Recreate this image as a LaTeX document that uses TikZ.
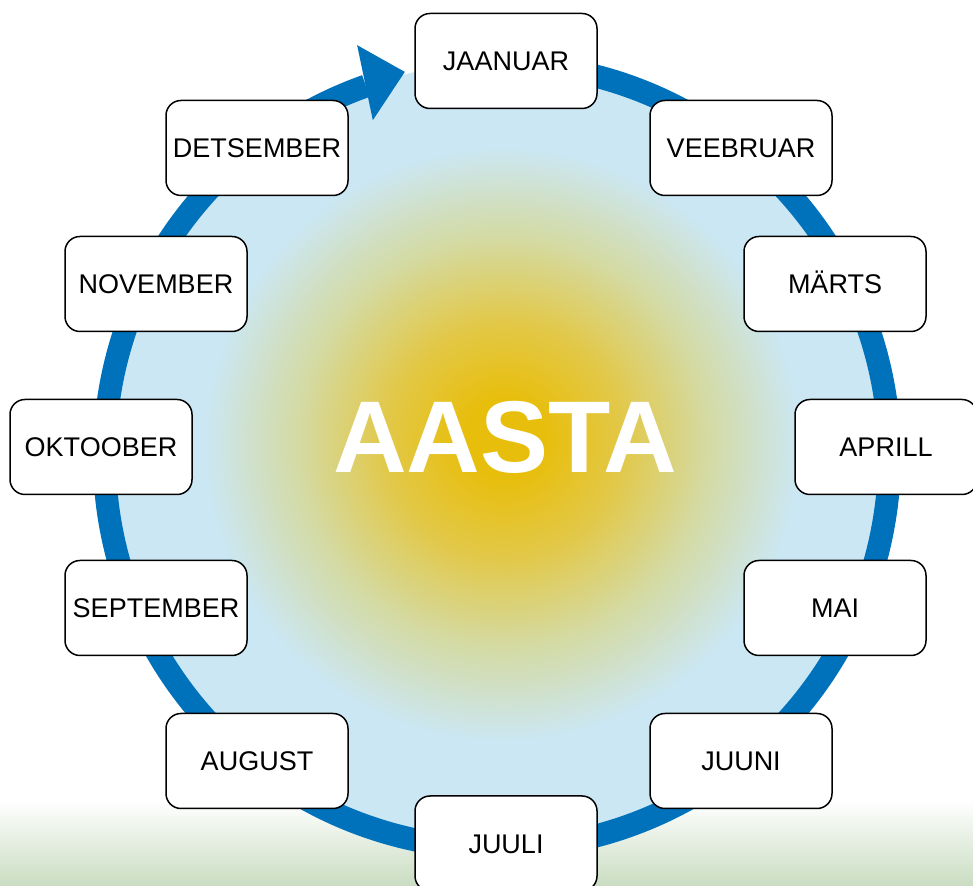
\documentclass[tikz,border=0pt]{standalone}
\usepackage{fontspec}
\setmainfont{Liberation Sans}
\usepackage{tikz}
\usepackage{xcolor}

\definecolor{ringblue}{RGB}{0,114,188}
\definecolor{skyfill}{RGB}{203,231,244}
\definecolor{glowgold}{RGB}{232,190,12}
\definecolor{glowmid}{RGB}{226,200,72}
\definecolor{glowpale}{RGB}{212,218,162}
\definecolor{grass}{RGB}{202,221,194}

\pgfdeclareradialshading{aastaglow}{\pgfpoint{0.5bp}{1.2bp}}{color(0bp)=(glowgold); color(2.5bp)=(glowgold); color(7.5bp)=(glowmid); color(13bp)=(glowpale); color(19bp)=(skyfill); color(50bp)=(skyfill)}

\tikzset{
	monthbox/.style={draw=black, line width=1.5pt, rounded corners=15pt, fill=white, minimum width=182pt, minimum height=95pt, inner sep=0pt, text height=19.3pt, text depth=0pt, font=\fontsize{27}{30}\selectfont},
	ring/.style={ringblue, line width=23pt}
}

\begin{document}
\begin{tikzpicture} [x=1pt,y=1pt]
				\useasboundingbox (0,0) rectangle (973,885);
				\fill [white] (0,0) rectangle (973,885);
				\shade [top color=white, bottom color=grass] (0,0) rectangle (973,85);
				\begin{scope}[shift={(497,429)}]
					\shade [shading=aastaglow] (0,0) circle (392.5);
					\draw [ring] (80:392.5) arc (80:-250.5:392.5);
					\fill [ringblue] (103.5:395) -- (108.8:434) -- (110.3:358) -- cycle;
				\end{scope}
				\node [white, font=\bfseries\fontsize{102}{110}\selectfont] (aasta) at (505,448) {AASTA};
				\node [monthbox] (jaanuar) at (506,824) {JAANUAR};
				\node [monthbox] (veebruar) at (741,737) {VEEBRUAR};
				\node [monthbox] (marts) at (835,601) {MÄRTS};
				\node [monthbox] (aprill) at (886,438) {APRILL};
				\node [monthbox] (mai) at (835,277) {MAI};
				\node [monthbox] (juuni) at (741,124) {JUUNI};
				\node [monthbox] (juuli) at (506,41.5) {JUULI};
				\node [monthbox] (august) at (257,124) {AUGUST};
				\node [monthbox] (september) at (156,277) {SEPTEMBER};
				\node [monthbox] (oktoober) at (101,438) {OKTOOBER};
				\node [monthbox] (november) at (156,601) {NOVEMBER};
				\node [monthbox] (detsember) at (257,737) {DETSEMBER};
			\end{tikzpicture}
\end{document}
